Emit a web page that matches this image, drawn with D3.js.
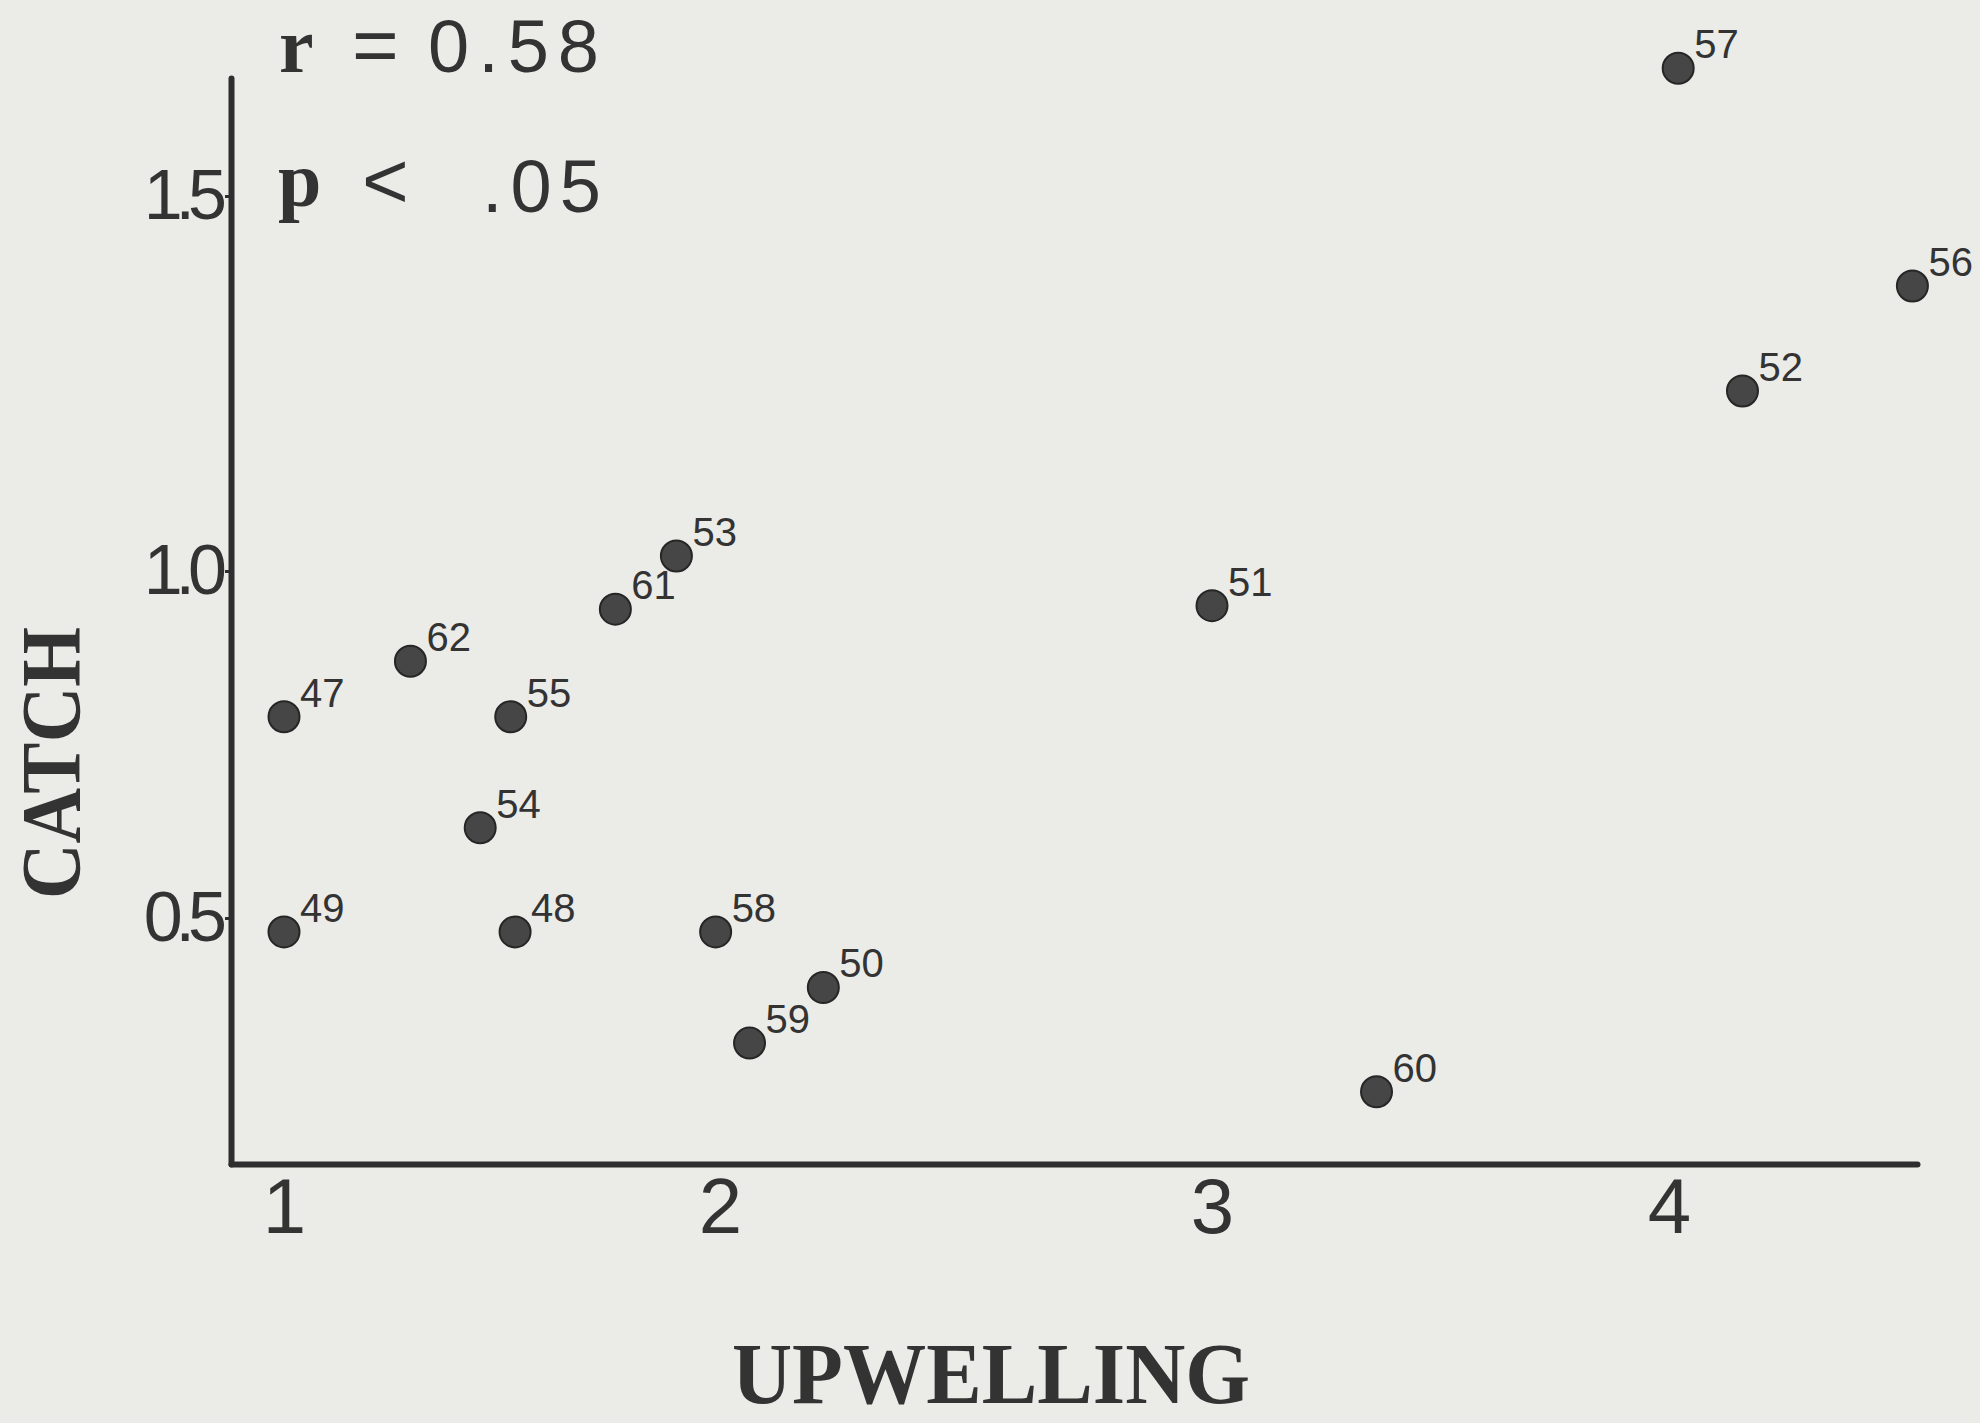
<!DOCTYPE html>
<html lang="en">
<head>
    <meta charset="UTF-8">
    <script src="https://d3js.org/d3.v7.min.js"></script>
    <style>
        body { margin: 0; background: #ebebe8; }
        svg { display: block; }
    </style>
</head>
<body>

<svg width="1980" height="1423"></svg>

<script>
    // data: year label, upwelling index, catch
    var years      = ["47", "49", "62", "55", "54", "48", "61", "53", "58", "50", "59", "51", "60", "57", "52", "56"];
    var upwelling  = [1.00, 1.00, 1.29, 1.52, 1.45, 1.53, 1.76, 1.90, 1.99, 2.21, 2.06, 3.00, 3.36, 4.02, 4.16, 4.53];
    var catchVals  = [0.79, 0.48, 0.87, 0.79, 0.63, 0.48, 0.945, 1.02, 0.48, 0.40, 0.32, 0.95, 0.25, 1.67, 1.24, 1.38];
    var xTicks = [1, 2, 3, 4];
    var yTicks = [0.5, 1.0, 1.5];

    var points = years.map(function(y, i) {
        return {year: y, up: upwelling[i], c: catchVals[i]};
    });

    var svg = d3.select("svg");
    var ink = "#2e2e2e";
    var sans = "'Liberation Sans', Arial, sans-serif";
    var serif = "'Liberation Serif', 'Times New Roman', serif";

    // the original axes were hand ruled, so the tick spacing is a bit uneven:
    // piecewise scales follow the drawn tick positions, ends are the axis ends
    var x = d3.scaleLinear()
        .domain([0.878, 1, 2, 3, 4, 4.54])
        .range([231, 284, 720, 1212, 1669, 1917]);
    var y = d3.scaleLinear()
        .domain([0.146, 0.5, 1.0, 1.5, 1.657])
        .range([1164, 918, 571, 196, 78]);

    var xAxis = svg.append("g")
        .attr("transform", "translate(0,1164)")
        .call(d3.axisBottom(x).tickValues(xTicks).tickSize(0).tickPadding(14).tickFormat(d3.format("d")));

    var yAxis = svg.append("g")
        .attr("transform", "translate(231,0)")
        .call(d3.axisLeft(y).tickValues(yTicks).tickSizeInner(6).tickSizeOuter(0).tickPadding(5).tickFormat(d3.format(".1f")));

    [xAxis, yAxis].forEach(function(a) {
        a.select(".domain").attr("stroke", ink).attr("stroke-width", 6).attr("stroke-linecap", "round");
        a.selectAll(".tick line").attr("stroke", ink).attr("stroke-width", 3);
        a.selectAll(".tick text").attr("fill", "#333").style("font-family", sans);
    });
    xAxis.selectAll(".tick text").style("font-size", "78px");
    yAxis.selectAll(".tick text").style("font-size", "70px").style("letter-spacing", "-0.1em");

    // points
    svg.append("g").selectAll("circle")
        .data(points)
        .join("circle")
        .attr("cx", function(d) { return x(d.up); })
        .attr("cy", function(d) { return y(d.c); })
        .attr("r", 15.5)
        .attr("fill", "#464646")
        .attr("stroke", "#262626")
        .attr("stroke-width", 2);

    svg.append("g").selectAll("text")
        .data(points)
        .join("text")
        .attr("x", function(d) { return x(d.up) + 16; })
        .attr("y", function(d) { return y(d.c) - 10; })
        .attr("fill", "#333")
        .style("font-family", sans)
        .style("font-size", "40px")
        .text(function(d) { return d.year; });

    // axis titles
    svg.append("text")
        .attr("x", 991).attr("y", 1403)
        .attr("text-anchor", "middle")
        .attr("textLength", 518).attr("lengthAdjust", "spacingAndGlyphs")
        .attr("fill", "#333")
        .style("font-family", serif).style("font-weight", "bold").style("font-size", "86px")
        .text("UPWELLING");

    svg.append("text")
        .attr("transform", "translate(80,763) rotate(-90)")
        .attr("text-anchor", "middle")
        .attr("textLength", 272).attr("lengthAdjust", "spacingAndGlyphs")
        .attr("fill", "#333")
        .style("font-family", serif).style("font-weight", "bold").style("font-size", "84px")
        .text("CATCH");

    // statistics
    var stats = svg.append("g").attr("fill", "#333");
    stats.append("text").attr("x", 279).attr("y", 72)
        .style("font-family", serif).style("font-weight", "bold").style("font-size", "78px").text("r");
    stats.append("text").attr("x", 352).attr("y", 72)
        .style("font-family", sans).style("font-size", "80px").text("=");
    stats.append("text").attr("x", 428).attr("y", 72)
        .style("font-family", sans).style("font-size", "74px").style("letter-spacing", "9px").text("0.58");
    stats.append("text").attr("x", 278).attr("y", 206)
        .style("font-family", serif).style("font-weight", "bold").style("font-size", "78px").text("p");
    stats.append("text").attr("x", 362).attr("y", 208)
        .style("font-family", sans).style("font-size", "80px").text("<");
    stats.append("text").attr("x", 482).attr("y", 212)
        .style("font-family", sans).style("font-size", "74px").style("letter-spacing", "8px").text(".05");
</script>

</body>
</html>
